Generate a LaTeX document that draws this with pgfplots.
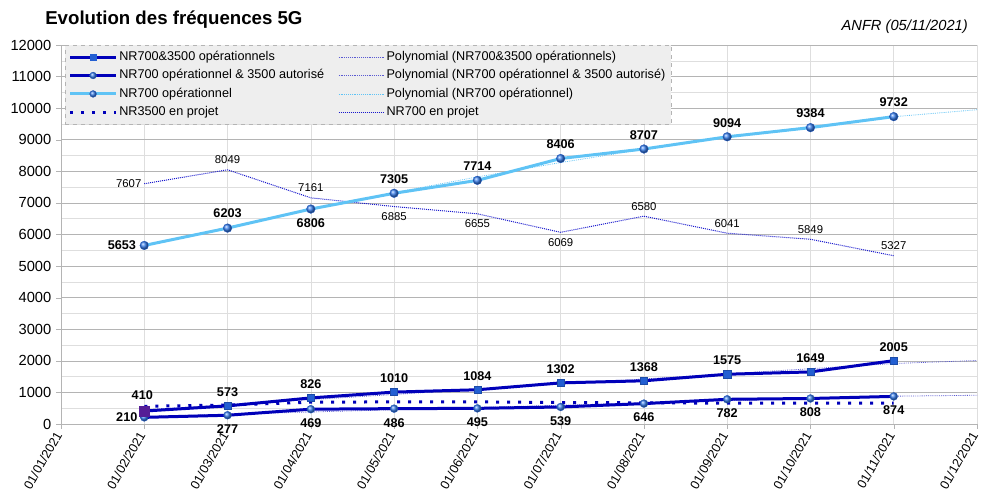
\documentclass[border=0pt]{standalone}
\usepackage{fontspec}
\setmainfont{Liberation Sans}
\usepackage{pgfplots}
\pgfplotsset{compat=1.18}
\definecolor{darkb}{RGB}{0,0,185}
\definecolor{lightb}{RGB}{95,195,245}
\definecolor{markb}{RGB}{35,95,210}
\definecolor{ballb}{RGB}{55,125,235}
\definecolor{enproj}{RGB}{25,25,205}
\definecolor{trendd}{RGB}{90,90,210}
\definecolor{purp}{RGB}{85,30,150}
\definecolor{gridd}{RGB}{180,180,180}
\definecolor{gridl}{RGB}{222,222,222}
\definecolor{leggray}{RGB}{238,238,238}
\tikzset{
  bl/.style={font=\bfseries\fontsize{9.5}{11}\selectfont, inner sep=0pt, text=black},
  rg/.style={font=\fontsize{8.5}{10}\selectfont, inner sep=0pt, text=black},
  ballmk/.style={solid, line width=0.2pt, draw=markb, ball color=ballb},
}

\pgfplotstableread{
x top bot light proj nr35
1 410 210 5653 7607 560
2 573 277 6203 8049 600
3 826 469 6806 7161 690
4 1010 486 7305 6885 700
5 1084 495 7714 6655 700
6 1302 539 8406 6069 680
7 1368 646 8707 6580 670
8 1575 782 9094 6041 660
9 1649 808 9384 5849 660
10 2005 874 9732 5327 660
}\datatab

\pgfplotstableread{
x top bot light
1 446 237 5622
2 609 309 6228
3 772 380 6797
4 935 452 7328
5 1099 523 7822
6 1262 594 8278
7 1425 666 8697
8 1588 737 9079
9 1751 809 9423
10 1915 880 9730
11 2010 910 9950
}\trendtab

\begin{document}
\begin{tikzpicture}
\path[use as bounding box] (0,0) rectangle (752.25pt,374.25pt);
\begin{axis}[
  at={(45.75pt,56.25pt)}, anchor=south west,
  scale only axis, width=687pt, height=284.25pt,
  xmin=0, xmax=11, ymin=0, ymax=12000,
  clip=false,
  axis lines*=left,
  axis line style={gridd},
  xtick={0,...,11},
  xticklabels={01/01/2021,01/02/2021,01/03/2021,01/04/2021,01/05/2021,01/06/2021,01/07/2021,01/08/2021,01/09/2021,01/10/2021,01/11/2021,01/12/2021},
  ytick={0,1000,...,12000},
  minor ytick={500,1500,...,11500},
  scaled y ticks=false,
  /pgf/number format/1000 sep={},
  /pgf/number format/assume math mode=true,
  y tick label style={font=\fontsize{11}{13}\selectfont, text=black},
  x tick label style={font=\fontsize{9.5}{11}\selectfont, rotate=60, anchor=east, text=black},
  tick align=outside,
  major tick length=3.75pt,
  minor tick length=0pt,
  tick style={gridd},
  xmajorgrids, ymajorgrids, yminorgrids,
  major x grid style={gridl},
  major y grid style={gridd},
  minor y grid style={gridl},
  legend columns=2,
  legend cell align=left,
  legend image code/.code={\draw[mark repeat=2,mark phase=2,#1] plot coordinates {(0pt,0pt) (17pt,0pt) (34pt,0pt)};},
  legend style={at={(rel axis cs:0.004,1)}, anchor=north west,
    fill=leggray, draw=gridd, dashed,
    font=\fontsize{9.5}{11}\selectfont,
    nodes={inner ysep=2.4pt, inner xsep=1.5pt, text height=7pt, text depth=2pt},
    /tikz/column 2/.style={column sep=9pt},
    row sep=0pt},
]
\addlegendimage{darkb, line width=2.25pt, solid, mark=square*, mark size=2.3pt, mark options={fill=markb, draw=markb, line width=0.3pt, solid}}
\addlegendentry{NR700\&3500 opérationnels}
\addlegendimage{trendd, line width=0.6pt, solid, dash pattern=on 0.6pt off 0.8pt}
\addlegendentry{Polynomial (NR700\&3500 opérationnels)}
\addlegendimage{darkb, line width=2.25pt, solid, mark=ball, mark size=2.6pt, mark options={ballmk}}
\addlegendentry{NR700 opérationnel \& 3500 autorisé}
\addlegendimage{trendd, line width=0.6pt, solid, dash pattern=on 0.6pt off 0.8pt}
\addlegendentry{Polynomial (NR700 opérationnel \& 3500 autorisé)}
\addlegendimage{lightb, line width=2.25pt, solid, mark=ball, mark size=2.6pt, mark options={ballmk}}
\addlegendentry{NR700 opérationnel}
\addlegendimage{lightb, line width=0.6pt, solid, dash pattern=on 0.6pt off 0.8pt}
\addlegendentry{Polynomial (NR700 opérationnel)}
\addlegendimage{darkb, line width=2.25pt, solid, dash pattern=on 2.25pt off 6pt}
\addlegendentry{NR3500 en projet}
\addlegendimage{enproj, line width=0.75pt, solid, dash pattern=on 0.75pt off 0.75pt}
\addlegendentry{NR700 en projet}

% trend lines
\addplot[forget plot, trendd, line width=0.6pt, dash pattern=on 0.6pt off 0.8pt] table[x=x, y=top] {\trendtab};
\addplot[forget plot, trendd, line width=0.6pt, dash pattern=on 0.6pt off 0.8pt] table[x=x, y=bot] {\trendtab};
\addplot[forget plot, lightb, line width=0.6pt, dash pattern=on 0.6pt off 0.8pt] table[x=x, y=light] {\trendtab};

% NR700 en projet
\addplot[forget plot, enproj, line width=0.75pt, dash pattern=on 0.75pt off 0.75pt] table[x=x, y=proj] {\datatab};
% NR3500 en projet
\addplot[forget plot, darkb, line width=2.25pt, dash pattern=on 2.25pt off 6pt] table[x=x, y=nr35] {\datatab};

% main series
\addplot[forget plot, lightb, line width=2.25pt, mark=ball, mark size=3.3pt, mark options={ballmk}] table[x=x, y=light] {\datatab};
\addplot[forget plot, darkb, line width=2.25pt, mark=ball, mark size=3pt, mark options={ballmk}] table[x=x, y=bot] {\datatab};
\addplot[forget plot, darkb, line width=2.25pt, mark=square*, mark size=2.7pt, mark options={solid, fill=markb, draw=markb!80!black, line width=0.3pt}] table[x=x, y=top] {\datatab};
\addplot[forget plot, only marks, mark=square*, mark size=3.6pt, mark options={fill=purp, draw=purp, line width=0.3pt}] coordinates {(1,410)};

% labels NR700 operationnel
\node[bl, anchor=east, xshift=-6pt] at (axis cs:1,5653) {5653};
\node[bl, yshift=11pt] at (axis cs:2,6203) {6203};
\node[bl, yshift=-10.5pt] at (axis cs:3,6806) {6806};
\node[bl, yshift=10.5pt] at (axis cs:4,7305) {7305};
\node[bl, yshift=10.5pt] at (axis cs:5,7714) {7714};
\node[bl, yshift=10.5pt] at (axis cs:6,8406) {8406};
\node[bl, yshift=10.5pt] at (axis cs:7,8707) {8707};
\node[bl, yshift=10.5pt] at (axis cs:8,9094) {9094};
\node[bl, yshift=10.5pt] at (axis cs:9,9384) {9384};
\node[bl, yshift=10.5pt] at (axis cs:10,9732) {9732};
% labels top
\node[bl, yshift=12pt, xshift=-1.5pt] at (axis cs:1,410) {410};
\node[bl, yshift=10.5pt] at (axis cs:2,573) {573};
\node[bl, yshift=10.5pt] at (axis cs:3,826) {826};
\node[bl, yshift=10.5pt] at (axis cs:4,1010) {1010};
\node[bl, yshift=10.5pt] at (axis cs:5,1084) {1084};
\node[bl, yshift=10.5pt] at (axis cs:6,1302) {1302};
\node[bl, yshift=10.5pt] at (axis cs:7,1368) {1368};
\node[bl, yshift=10.5pt] at (axis cs:8,1575) {1575};
\node[bl, yshift=10.5pt] at (axis cs:9,1649) {1649};
\node[bl, yshift=10.5pt] at (axis cs:10,2005) {2005};
% labels bottom
\node[bl, anchor=east, xshift=-5pt] at (axis cs:1,210) {210};
\node[bl, yshift=-10.5pt] at (axis cs:2,277) {277};
\node[bl, yshift=-10.5pt] at (axis cs:3,469) {469};
\node[bl, yshift=-10.5pt] at (axis cs:4,486) {486};
\node[bl, yshift=-10.5pt] at (axis cs:5,495) {495};
\node[bl, yshift=-10.5pt] at (axis cs:6,539) {539};
\node[bl, yshift=-10.5pt] at (axis cs:7,646) {646};
\node[bl, yshift=-10.5pt] at (axis cs:8,782) {782};
\node[bl, yshift=-10.5pt] at (axis cs:9,808) {808};
\node[bl, yshift=-10.5pt] at (axis cs:10,874) {874};
% labels NR700 en projet
\node[rg, anchor=east, xshift=-2pt] at (axis cs:1,7607) {7607};
\node[rg, yshift=7.5pt] at (axis cs:2,8049) {8049};
\node[rg, yshift=7.5pt] at (axis cs:3,7161) {7161};
\node[rg, yshift=-7.5pt] at (axis cs:4,6885) {6885};
\node[rg, yshift=-7.5pt] at (axis cs:5,6655) {6655};
\node[rg, yshift=-7.5pt] at (axis cs:6,6069) {6069};
\node[rg, yshift=7.5pt] at (axis cs:7,6580) {6580};
\node[rg, yshift=7.5pt] at (axis cs:8,6041) {6041};
\node[rg, yshift=7.5pt] at (axis cs:9,5849) {5849};
\node[rg, yshift=7.5pt] at (axis cs:10,5327) {5327};
\end{axis}
\node[anchor=west, inner sep=0pt, font=\bfseries\fontsize{14}{16}\selectfont] at (33.75pt,359.25pt) {Evolution des fréquences 5G};
\node[anchor=east, inner sep=0pt, font=\itshape\fontsize{11}{13}\selectfont] at (726pt,354pt) {ANFR (05/11/2021)};
\end{tikzpicture}
\end{document}
